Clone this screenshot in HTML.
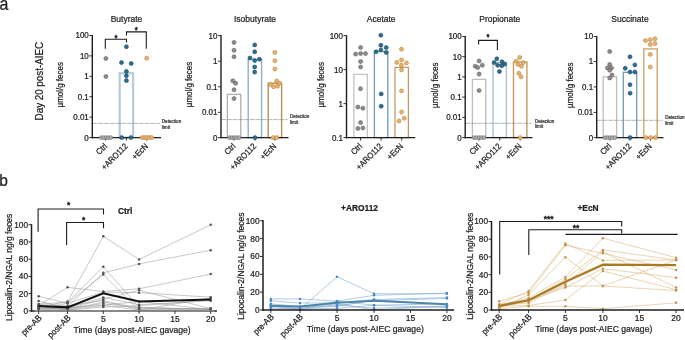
<!DOCTYPE html>
<html><head><meta charset="utf-8"><style>
html,body{margin:0;padding:0;background:#fff;width:685px;height:340px;overflow:hidden}
svg{display:block;will-change:transform}
text{font-family:"Liberation Sans", sans-serif}
</style></head><body>
<svg width="685" height="340" viewBox="0 0 685 340">
<rect width="685" height="340" fill="#fff"/>
<text font-size="16.0" text-anchor="start" fill="#222" stroke="#222" stroke-width="0.22" transform="translate(-0.60 10.00) scale(1.0 1.1)">a</text>
<text font-size="9.8" text-anchor="middle" fill="#222" stroke="#222" stroke-width="0.22" transform="translate(43.40 81.20) rotate(-90) scale(1.0 1.1)">Day 20 post-AIEC</text>
<rect x="119.70" y="73.20" width="13.40" height="64.40" fill="none" stroke="#b7ccd9" stroke-width="2.2"/>
<line x1="92.30" y1="123.40" x2="160.00" y2="123.40" stroke="#8c8c8c" stroke-width="0.65" stroke-dasharray="5,0.8"/>
<text font-size="4.6" text-anchor="start" fill="#333" stroke="#333" stroke-width="0.22" transform="translate(161.80 123.00) scale(1.0 1.1)">Detection</text>
<text font-size="4.6" text-anchor="start" fill="#333" stroke="#333" stroke-width="0.22" transform="translate(161.80 128.60) scale(1.0 1.1)">limit</text>
<line x1="92.30" y1="35.00" x2="92.30" y2="138.30" stroke="#1e1e1e" stroke-width="1.4"/>
<line x1="91.60" y1="137.60" x2="161.00" y2="137.60" stroke="#1e1e1e" stroke-width="1.4"/>
<line x1="89.30" y1="35.50" x2="92.30" y2="35.50" stroke="#1e1e1e" stroke-width="0.9"/>
<text font-size="8.0" text-anchor="end" fill="#222" stroke="#222" stroke-width="0.22" transform="translate(88.80 38.40) scale(1.0 1.1)">100</text>
<line x1="89.30" y1="55.90" x2="92.30" y2="55.90" stroke="#1e1e1e" stroke-width="0.9"/>
<text font-size="8.0" text-anchor="end" fill="#222" stroke="#222" stroke-width="0.22" transform="translate(88.80 58.80) scale(1.0 1.1)">10</text>
<line x1="89.30" y1="76.30" x2="92.30" y2="76.30" stroke="#1e1e1e" stroke-width="0.9"/>
<text font-size="8.0" text-anchor="end" fill="#222" stroke="#222" stroke-width="0.22" transform="translate(88.80 79.20) scale(1.0 1.1)">1</text>
<line x1="89.30" y1="96.70" x2="92.30" y2="96.70" stroke="#1e1e1e" stroke-width="0.9"/>
<text font-size="8.0" text-anchor="end" fill="#222" stroke="#222" stroke-width="0.22" transform="translate(88.80 99.60) scale(1.0 1.1)">0.1</text>
<line x1="89.30" y1="117.10" x2="92.30" y2="117.10" stroke="#1e1e1e" stroke-width="0.9"/>
<text font-size="8.0" text-anchor="end" fill="#222" stroke="#222" stroke-width="0.22" transform="translate(88.80 120.00) scale(1.0 1.1)">0.01</text>
<line x1="89.30" y1="137.60" x2="92.30" y2="137.60" stroke="#1e1e1e" stroke-width="0.9"/>
<text font-size="8.0" text-anchor="end" fill="#222" stroke="#222" stroke-width="0.22" transform="translate(88.80 140.50) scale(1.0 1.1)">0</text>
<line x1="105.70" y1="137.60" x2="105.70" y2="140.60" stroke="#1e1e1e" stroke-width="0.9"/>
<line x1="126.40" y1="137.60" x2="126.40" y2="140.60" stroke="#1e1e1e" stroke-width="0.9"/>
<line x1="146.70" y1="137.60" x2="146.70" y2="140.60" stroke="#1e1e1e" stroke-width="0.9"/>
<circle cx="105.90" cy="58.50" r="2.0" fill="#8d8d8d" stroke="#5e5e5e" stroke-width="0.6"/>
<circle cx="105.90" cy="76.50" r="2.0" fill="#8d8d8d" stroke="#5e5e5e" stroke-width="0.6"/>
<circle cx="101.30" cy="137.60" r="1.9" fill="#b0b0b0" stroke="#666" stroke-width="0.6"/>
<circle cx="103.67" cy="137.60" r="1.9" fill="#b0b0b0" stroke="#666" stroke-width="0.6"/>
<circle cx="106.05" cy="137.60" r="1.9" fill="#b0b0b0" stroke="#666" stroke-width="0.6"/>
<circle cx="108.42" cy="137.60" r="1.9" fill="#b0b0b0" stroke="#666" stroke-width="0.6"/>
<circle cx="110.80" cy="137.60" r="1.9" fill="#b0b0b0" stroke="#666" stroke-width="0.6"/>
<circle cx="126.40" cy="46.70" r="2.0" fill="#2f6d8f" stroke="#1c4a66" stroke-width="0.6"/>
<circle cx="121.50" cy="62.60" r="2.0" fill="#2f6d8f" stroke="#1c4a66" stroke-width="0.6"/>
<circle cx="131.20" cy="63.50" r="2.0" fill="#2f6d8f" stroke="#1c4a66" stroke-width="0.6"/>
<circle cx="126.40" cy="71.40" r="2.0" fill="#2f6d8f" stroke="#1c4a66" stroke-width="0.6"/>
<circle cx="126.40" cy="75.80" r="2.0" fill="#2f6d8f" stroke="#1c4a66" stroke-width="0.6"/>
<circle cx="126.40" cy="80.60" r="2.0" fill="#2f6d8f" stroke="#1c4a66" stroke-width="0.6"/>
<circle cx="121.70" cy="137.60" r="2.0" fill="#2f6d8f" stroke="#1c4a66" stroke-width="0.6"/>
<circle cx="130.90" cy="137.60" r="2.0" fill="#2f6d8f" stroke="#1c4a66" stroke-width="0.6"/>
<circle cx="146.70" cy="58.20" r="2.0" fill="#e8b36c" stroke="#b98440" stroke-width="0.6"/>
<circle cx="142.20" cy="137.60" r="2.0" fill="#e8b36c" stroke="#b98440" stroke-width="0.6"/>
<circle cx="144.55" cy="137.60" r="2.0" fill="#e8b36c" stroke="#b98440" stroke-width="0.6"/>
<circle cx="146.90" cy="137.60" r="2.0" fill="#e8b36c" stroke="#b98440" stroke-width="0.6"/>
<circle cx="149.25" cy="137.60" r="2.0" fill="#e8b36c" stroke="#b98440" stroke-width="0.6"/>
<circle cx="151.60" cy="137.60" r="2.0" fill="#e8b36c" stroke="#b98440" stroke-width="0.6"/>
<text font-size="8.5" text-anchor="middle" fill="#222" stroke="#222" stroke-width="0.22" transform="translate(126.50 21.60) scale(1.0 1.1)">Butyrate</text>
<text font-size="8.0" text-anchor="middle" fill="#222" stroke="#222" stroke-width="0.22" transform="translate(63.20 84.75) rotate(-90) scale(1.0 1.1)">µmol/g feces</text>
<text font-size="7.7" text-anchor="end" fill="#222" stroke="#222" stroke-width="0.22" transform="translate(107.70 146.80) rotate(-45) scale(1.0 1.1)">Ctrl</text>
<text font-size="7.7" text-anchor="end" fill="#222" stroke="#222" stroke-width="0.22" transform="translate(128.40 146.80) rotate(-45) scale(1.0 1.1)">+ARO112</text>
<text font-size="7.7" text-anchor="end" fill="#222" stroke="#222" stroke-width="0.22" transform="translate(148.70 146.80) rotate(-45) scale(1.0 1.1)">+EcN</text>
<polyline points="105.30,48.70 105.30,39.30 126.50,39.30 126.50,42.60" fill="none" stroke="#1e1e1e" stroke-width="1.1" stroke-linejoin="miter"/>
<text font-size="7.5" text-anchor="middle" fill="#222" stroke="#222" stroke-width="0.45" transform="translate(115.90 40.70) scale(1.0 1.1)">*</text>
<polyline points="126.50,35.60 126.50,31.90 146.30,31.90 146.30,48.70" fill="none" stroke="#1e1e1e" stroke-width="1.1" stroke-linejoin="miter"/>
<text font-size="7.5" text-anchor="middle" fill="#222" stroke="#222" stroke-width="0.45" transform="translate(136.20 33.20) scale(1.0 1.1)">*</text>
<rect x="227.40" y="94.40" width="13.40" height="43.20" fill="none" stroke="#b0b0b0" stroke-width="1.3"/>
<rect x="248.20" y="59.40" width="13.40" height="78.20" fill="none" stroke="#8eb1c8" stroke-width="1.4"/>
<rect x="268.20" y="83.20" width="13.40" height="54.40" fill="none" stroke="#b98d5a" stroke-width="1.4"/>
<line x1="221.00" y1="119.60" x2="287.50" y2="119.60" stroke="#8c8c8c" stroke-width="0.65" stroke-dasharray="5,0.8"/>
<text font-size="4.6" text-anchor="start" fill="#333" stroke="#333" stroke-width="0.22" transform="translate(290.00 118.10) scale(1.0 1.1)">Detection</text>
<text font-size="4.6" text-anchor="start" fill="#333" stroke="#333" stroke-width="0.22" transform="translate(290.00 124.40) scale(1.0 1.1)">limit</text>
<line x1="221.00" y1="35.10" x2="221.00" y2="138.30" stroke="#1e1e1e" stroke-width="1.4"/>
<line x1="220.30" y1="137.60" x2="288.50" y2="137.60" stroke="#1e1e1e" stroke-width="1.4"/>
<line x1="218.00" y1="35.60" x2="221.00" y2="35.60" stroke="#1e1e1e" stroke-width="0.9"/>
<text font-size="8.0" text-anchor="end" fill="#222" stroke="#222" stroke-width="0.22" transform="translate(217.50 38.50) scale(1.0 1.1)">10</text>
<line x1="218.00" y1="61.20" x2="221.00" y2="61.20" stroke="#1e1e1e" stroke-width="0.9"/>
<text font-size="8.0" text-anchor="end" fill="#222" stroke="#222" stroke-width="0.22" transform="translate(217.50 64.10) scale(1.0 1.1)">1</text>
<line x1="218.00" y1="86.80" x2="221.00" y2="86.80" stroke="#1e1e1e" stroke-width="0.9"/>
<text font-size="8.0" text-anchor="end" fill="#222" stroke="#222" stroke-width="0.22" transform="translate(217.50 89.70) scale(1.0 1.1)">0.1</text>
<line x1="218.00" y1="112.30" x2="221.00" y2="112.30" stroke="#1e1e1e" stroke-width="0.9"/>
<text font-size="8.0" text-anchor="end" fill="#222" stroke="#222" stroke-width="0.22" transform="translate(217.50 115.20) scale(1.0 1.1)">0.01</text>
<line x1="218.00" y1="137.60" x2="221.00" y2="137.60" stroke="#1e1e1e" stroke-width="0.9"/>
<text font-size="8.0" text-anchor="end" fill="#222" stroke="#222" stroke-width="0.22" transform="translate(217.50 140.50) scale(1.0 1.1)">0</text>
<line x1="234.10" y1="137.60" x2="234.10" y2="140.60" stroke="#1e1e1e" stroke-width="0.9"/>
<line x1="254.90" y1="137.60" x2="254.90" y2="140.60" stroke="#1e1e1e" stroke-width="0.9"/>
<line x1="274.90" y1="137.60" x2="274.90" y2="140.60" stroke="#1e1e1e" stroke-width="0.9"/>
<circle cx="234.00" cy="42.40" r="2.0" fill="#8d8d8d" stroke="#5e5e5e" stroke-width="0.6"/>
<circle cx="234.00" cy="50.20" r="2.0" fill="#8d8d8d" stroke="#5e5e5e" stroke-width="0.6"/>
<circle cx="234.00" cy="56.80" r="2.0" fill="#8d8d8d" stroke="#5e5e5e" stroke-width="0.6"/>
<circle cx="232.80" cy="80.80" r="2.0" fill="#8d8d8d" stroke="#5e5e5e" stroke-width="0.6"/>
<circle cx="235.60" cy="83.30" r="2.0" fill="#8d8d8d" stroke="#5e5e5e" stroke-width="0.6"/>
<circle cx="234.00" cy="89.70" r="2.0" fill="#8d8d8d" stroke="#5e5e5e" stroke-width="0.6"/>
<circle cx="234.00" cy="98.60" r="2.0" fill="#8d8d8d" stroke="#5e5e5e" stroke-width="0.6"/>
<circle cx="229.50" cy="137.60" r="1.9" fill="#b0b0b0" stroke="#666" stroke-width="0.6"/>
<circle cx="231.88" cy="137.60" r="1.9" fill="#b0b0b0" stroke="#666" stroke-width="0.6"/>
<circle cx="234.25" cy="137.60" r="1.9" fill="#b0b0b0" stroke="#666" stroke-width="0.6"/>
<circle cx="236.62" cy="137.60" r="1.9" fill="#b0b0b0" stroke="#666" stroke-width="0.6"/>
<circle cx="239.00" cy="137.60" r="1.9" fill="#b0b0b0" stroke="#666" stroke-width="0.6"/>
<circle cx="254.70" cy="44.90" r="2.0" fill="#2f6d8f" stroke="#1c4a66" stroke-width="0.6"/>
<circle cx="254.70" cy="51.80" r="2.0" fill="#2f6d8f" stroke="#1c4a66" stroke-width="0.6"/>
<circle cx="250.00" cy="58.00" r="2.0" fill="#2f6d8f" stroke="#1c4a66" stroke-width="0.6"/>
<circle cx="259.40" cy="59.20" r="2.0" fill="#2f6d8f" stroke="#1c4a66" stroke-width="0.6"/>
<circle cx="254.70" cy="60.60" r="2.0" fill="#2f6d8f" stroke="#1c4a66" stroke-width="0.6"/>
<circle cx="254.70" cy="67.00" r="2.0" fill="#2f6d8f" stroke="#1c4a66" stroke-width="0.6"/>
<circle cx="254.70" cy="72.10" r="2.0" fill="#2f6d8f" stroke="#1c4a66" stroke-width="0.6"/>
<circle cx="255.00" cy="137.60" r="2.0" fill="#2f6d8f" stroke="#1c4a66" stroke-width="0.6"/>
<circle cx="274.90" cy="52.40" r="2.0" fill="#e8b36c" stroke="#b98440" stroke-width="0.6"/>
<circle cx="274.90" cy="60.80" r="2.0" fill="#e8b36c" stroke="#b98440" stroke-width="0.6"/>
<circle cx="274.90" cy="69.10" r="2.0" fill="#e8b36c" stroke="#b98440" stroke-width="0.6"/>
<circle cx="270.50" cy="84.50" r="2.0" fill="#e8b36c" stroke="#b98440" stroke-width="0.6"/>
<circle cx="273.50" cy="86.80" r="2.0" fill="#e8b36c" stroke="#b98440" stroke-width="0.6"/>
<circle cx="276.60" cy="81.10" r="2.0" fill="#e8b36c" stroke="#b98440" stroke-width="0.6"/>
<circle cx="277.50" cy="86.20" r="2.0" fill="#e8b36c" stroke="#b98440" stroke-width="0.6"/>
<circle cx="279.60" cy="83.20" r="2.0" fill="#e8b36c" stroke="#b98440" stroke-width="0.6"/>
<circle cx="273.00" cy="137.60" r="2.0" fill="#e8b36c" stroke="#b98440" stroke-width="0.6"/>
<circle cx="276.60" cy="137.60" r="2.0" fill="#e8b36c" stroke="#b98440" stroke-width="0.6"/>
<text font-size="8.5" text-anchor="middle" fill="#222" stroke="#222" stroke-width="0.22" transform="translate(255.00 21.70) scale(1.0 1.1)">Isobutyrate</text>
<text font-size="8.0" text-anchor="middle" fill="#222" stroke="#222" stroke-width="0.22" transform="translate(192.20 84.50) rotate(-90) scale(1.0 1.1)">µmol/g feces</text>
<text font-size="7.7" text-anchor="end" fill="#222" stroke="#222" stroke-width="0.22" transform="translate(236.10 146.80) rotate(-45) scale(1.0 1.1)">Ctrl</text>
<text font-size="7.7" text-anchor="end" fill="#222" stroke="#222" stroke-width="0.22" transform="translate(256.90 146.80) rotate(-45) scale(1.0 1.1)">+ARO112</text>
<text font-size="7.7" text-anchor="end" fill="#222" stroke="#222" stroke-width="0.22" transform="translate(276.90 146.80) rotate(-45) scale(1.0 1.1)">+EcN</text>
<rect x="353.90" y="74.40" width="13.40" height="63.20" fill="none" stroke="#c4c4c4" stroke-width="1.3"/>
<rect x="374.40" y="51.50" width="13.40" height="86.10" fill="none" stroke="#6f9cb8" stroke-width="1.3"/>
<rect x="395.00" y="67.40" width="13.40" height="70.20" fill="none" stroke="#c09a66" stroke-width="1.3"/>
<line x1="346.50" y1="35.10" x2="346.50" y2="138.30" stroke="#1e1e1e" stroke-width="1.4"/>
<line x1="345.80" y1="137.60" x2="415.20" y2="137.60" stroke="#1e1e1e" stroke-width="1.4"/>
<line x1="343.50" y1="35.60" x2="346.50" y2="35.60" stroke="#1e1e1e" stroke-width="0.9"/>
<text font-size="8.0" text-anchor="end" fill="#222" stroke="#222" stroke-width="0.22" transform="translate(343.00 38.50) scale(1.0 1.1)">100</text>
<line x1="343.50" y1="69.60" x2="346.50" y2="69.60" stroke="#1e1e1e" stroke-width="0.9"/>
<text font-size="8.0" text-anchor="end" fill="#222" stroke="#222" stroke-width="0.22" transform="translate(343.00 72.50) scale(1.0 1.1)">10</text>
<line x1="343.50" y1="103.60" x2="346.50" y2="103.60" stroke="#1e1e1e" stroke-width="0.9"/>
<text font-size="8.0" text-anchor="end" fill="#222" stroke="#222" stroke-width="0.22" transform="translate(343.00 106.50) scale(1.0 1.1)">1</text>
<line x1="343.50" y1="137.60" x2="346.50" y2="137.60" stroke="#1e1e1e" stroke-width="0.9"/>
<text font-size="8.0" text-anchor="end" fill="#222" stroke="#222" stroke-width="0.22" transform="translate(343.00 140.50) scale(1.0 1.1)">0.1</text>
<line x1="360.60" y1="137.60" x2="360.60" y2="140.60" stroke="#1e1e1e" stroke-width="0.9"/>
<line x1="381.10" y1="137.60" x2="381.10" y2="140.60" stroke="#1e1e1e" stroke-width="0.9"/>
<line x1="401.70" y1="137.60" x2="401.70" y2="140.60" stroke="#1e1e1e" stroke-width="0.9"/>
<circle cx="360.60" cy="47.60" r="2.0" fill="#8d8d8d" stroke="#5e5e5e" stroke-width="0.6"/>
<circle cx="355.60" cy="54.10" r="2.0" fill="#8d8d8d" stroke="#5e5e5e" stroke-width="0.6"/>
<circle cx="360.60" cy="53.60" r="2.0" fill="#8d8d8d" stroke="#5e5e5e" stroke-width="0.6"/>
<circle cx="365.50" cy="53.60" r="2.0" fill="#8d8d8d" stroke="#5e5e5e" stroke-width="0.6"/>
<circle cx="360.60" cy="61.50" r="2.0" fill="#8d8d8d" stroke="#5e5e5e" stroke-width="0.6"/>
<circle cx="360.60" cy="67.00" r="2.0" fill="#8d8d8d" stroke="#5e5e5e" stroke-width="0.6"/>
<circle cx="360.50" cy="88.75" r="2.0" fill="#8d8d8d" stroke="#5e5e5e" stroke-width="0.6"/>
<circle cx="357.90" cy="107.10" r="2.0" fill="#8d8d8d" stroke="#5e5e5e" stroke-width="0.6"/>
<circle cx="362.90" cy="108.20" r="2.0" fill="#8d8d8d" stroke="#5e5e5e" stroke-width="0.6"/>
<circle cx="360.60" cy="122.60" r="2.0" fill="#8d8d8d" stroke="#5e5e5e" stroke-width="0.6"/>
<circle cx="357.90" cy="128.40" r="2.0" fill="#8d8d8d" stroke="#5e5e5e" stroke-width="0.6"/>
<circle cx="362.90" cy="127.90" r="2.0" fill="#8d8d8d" stroke="#5e5e5e" stroke-width="0.6"/>
<circle cx="380.90" cy="35.20" r="2.0" fill="#2f6d8f" stroke="#1c4a66" stroke-width="0.6"/>
<circle cx="380.90" cy="45.30" r="2.0" fill="#2f6d8f" stroke="#1c4a66" stroke-width="0.6"/>
<circle cx="376.10" cy="51.80" r="2.0" fill="#2f6d8f" stroke="#1c4a66" stroke-width="0.6"/>
<circle cx="380.90" cy="50.00" r="2.0" fill="#2f6d8f" stroke="#1c4a66" stroke-width="0.6"/>
<circle cx="386.20" cy="47.60" r="2.0" fill="#2f6d8f" stroke="#1c4a66" stroke-width="0.6"/>
<circle cx="386.20" cy="52.40" r="2.0" fill="#2f6d8f" stroke="#1c4a66" stroke-width="0.6"/>
<circle cx="381.20" cy="93.90" r="2.0" fill="#2f6d8f" stroke="#1c4a66" stroke-width="0.6"/>
<circle cx="381.20" cy="106.20" r="2.0" fill="#2f6d8f" stroke="#1c4a66" stroke-width="0.6"/>
<circle cx="401.50" cy="49.20" r="2.0" fill="#e8b36c" stroke="#b98440" stroke-width="0.6"/>
<circle cx="396.80" cy="62.40" r="2.0" fill="#e8b36c" stroke="#b98440" stroke-width="0.6"/>
<circle cx="401.50" cy="59.90" r="2.0" fill="#e8b36c" stroke="#b98440" stroke-width="0.6"/>
<circle cx="406.50" cy="62.90" r="2.0" fill="#e8b36c" stroke="#b98440" stroke-width="0.6"/>
<circle cx="401.50" cy="65.20" r="2.0" fill="#e8b36c" stroke="#b98440" stroke-width="0.6"/>
<circle cx="401.50" cy="70.00" r="2.0" fill="#e8b36c" stroke="#b98440" stroke-width="0.6"/>
<circle cx="401.50" cy="90.90" r="2.0" fill="#e8b36c" stroke="#b98440" stroke-width="0.6"/>
<circle cx="401.50" cy="112.00" r="2.0" fill="#e8b36c" stroke="#b98440" stroke-width="0.6"/>
<circle cx="399.00" cy="120.90" r="2.0" fill="#e8b36c" stroke="#b98440" stroke-width="0.6"/>
<circle cx="404.30" cy="118.20" r="2.0" fill="#e8b36c" stroke="#b98440" stroke-width="0.6"/>
<text font-size="8.5" text-anchor="middle" fill="#222" stroke="#222" stroke-width="0.22" transform="translate(381.20 21.70) scale(1.0 1.1)">Acetate</text>
<text font-size="8.0" text-anchor="middle" fill="#222" stroke="#222" stroke-width="0.22" transform="translate(324.20 84.70) rotate(-90) scale(1.0 1.1)">µmol/g feces</text>
<text font-size="7.7" text-anchor="end" fill="#222" stroke="#222" stroke-width="0.22" transform="translate(362.60 146.80) rotate(-45) scale(1.0 1.1)">Ctrl</text>
<text font-size="7.7" text-anchor="end" fill="#222" stroke="#222" stroke-width="0.22" transform="translate(383.10 146.80) rotate(-45) scale(1.0 1.1)">+ARO112</text>
<text font-size="7.7" text-anchor="end" fill="#222" stroke="#222" stroke-width="0.22" transform="translate(403.70 146.80) rotate(-45) scale(1.0 1.1)">+EcN</text>
<rect x="472.40" y="79.40" width="13.40" height="58.20" fill="none" stroke="#bdbdbd" stroke-width="1.3"/>
<rect x="493.00" y="62.60" width="13.40" height="75.00" fill="none" stroke="#a9c4d6" stroke-width="1.4"/>
<rect x="513.50" y="62.00" width="13.40" height="75.60" fill="none" stroke="#c7995e" stroke-width="1.4"/>
<line x1="465.20" y1="123.30" x2="531.50" y2="123.30" stroke="#8c8c8c" stroke-width="0.65" stroke-dasharray="5,0.8"/>
<text font-size="4.6" text-anchor="start" fill="#333" stroke="#333" stroke-width="0.22" transform="translate(535.00 122.85) scale(1.0 1.1)">Detection</text>
<text font-size="4.6" text-anchor="start" fill="#333" stroke="#333" stroke-width="0.22" transform="translate(535.00 128.35) scale(1.0 1.1)">limit</text>
<line x1="465.20" y1="36.00" x2="465.20" y2="138.30" stroke="#1e1e1e" stroke-width="1.4"/>
<line x1="464.50" y1="137.60" x2="532.50" y2="137.60" stroke="#1e1e1e" stroke-width="1.4"/>
<line x1="462.20" y1="36.50" x2="465.20" y2="36.50" stroke="#1e1e1e" stroke-width="0.9"/>
<text font-size="8.0" text-anchor="end" fill="#222" stroke="#222" stroke-width="0.22" transform="translate(461.70 39.40) scale(1.0 1.1)">100</text>
<line x1="462.20" y1="56.70" x2="465.20" y2="56.70" stroke="#1e1e1e" stroke-width="0.9"/>
<text font-size="8.0" text-anchor="end" fill="#222" stroke="#222" stroke-width="0.22" transform="translate(461.70 59.60) scale(1.0 1.1)">10</text>
<line x1="462.20" y1="76.90" x2="465.20" y2="76.90" stroke="#1e1e1e" stroke-width="0.9"/>
<text font-size="8.0" text-anchor="end" fill="#222" stroke="#222" stroke-width="0.22" transform="translate(461.70 79.80) scale(1.0 1.1)">1</text>
<line x1="462.20" y1="97.10" x2="465.20" y2="97.10" stroke="#1e1e1e" stroke-width="0.9"/>
<text font-size="8.0" text-anchor="end" fill="#222" stroke="#222" stroke-width="0.22" transform="translate(461.70 100.00) scale(1.0 1.1)">0.1</text>
<line x1="462.20" y1="117.40" x2="465.20" y2="117.40" stroke="#1e1e1e" stroke-width="0.9"/>
<text font-size="8.0" text-anchor="end" fill="#222" stroke="#222" stroke-width="0.22" transform="translate(461.70 120.30) scale(1.0 1.1)">0.01</text>
<line x1="462.20" y1="137.60" x2="465.20" y2="137.60" stroke="#1e1e1e" stroke-width="0.9"/>
<text font-size="8.0" text-anchor="end" fill="#222" stroke="#222" stroke-width="0.22" transform="translate(461.70 140.50) scale(1.0 1.1)">0</text>
<line x1="479.10" y1="137.60" x2="479.10" y2="140.60" stroke="#1e1e1e" stroke-width="0.9"/>
<line x1="499.70" y1="137.60" x2="499.70" y2="140.60" stroke="#1e1e1e" stroke-width="0.9"/>
<line x1="520.20" y1="137.60" x2="520.20" y2="140.60" stroke="#1e1e1e" stroke-width="0.9"/>
<circle cx="479.10" cy="60.90" r="2.0" fill="#8d8d8d" stroke="#5e5e5e" stroke-width="0.6"/>
<circle cx="475.20" cy="66.20" r="2.0" fill="#8d8d8d" stroke="#5e5e5e" stroke-width="0.6"/>
<circle cx="477.70" cy="67.60" r="2.0" fill="#8d8d8d" stroke="#5e5e5e" stroke-width="0.6"/>
<circle cx="482.30" cy="65.30" r="2.0" fill="#8d8d8d" stroke="#5e5e5e" stroke-width="0.6"/>
<circle cx="479.10" cy="74.10" r="2.0" fill="#8d8d8d" stroke="#5e5e5e" stroke-width="0.6"/>
<circle cx="479.10" cy="90.50" r="2.0" fill="#8d8d8d" stroke="#5e5e5e" stroke-width="0.6"/>
<circle cx="474.00" cy="137.60" r="1.9" fill="#b0b0b0" stroke="#666" stroke-width="0.6"/>
<circle cx="476.50" cy="137.60" r="1.9" fill="#b0b0b0" stroke="#666" stroke-width="0.6"/>
<circle cx="479.00" cy="137.60" r="1.9" fill="#b0b0b0" stroke="#666" stroke-width="0.6"/>
<circle cx="481.50" cy="137.60" r="1.9" fill="#b0b0b0" stroke="#666" stroke-width="0.6"/>
<circle cx="484.00" cy="137.60" r="1.9" fill="#b0b0b0" stroke="#666" stroke-width="0.6"/>
<circle cx="496.80" cy="58.80" r="2.0" fill="#2f6d8f" stroke="#1c4a66" stroke-width="0.6"/>
<circle cx="494.10" cy="62.60" r="2.0" fill="#2f6d8f" stroke="#1c4a66" stroke-width="0.6"/>
<circle cx="502.00" cy="61.80" r="2.0" fill="#2f6d8f" stroke="#1c4a66" stroke-width="0.6"/>
<circle cx="497.60" cy="65.30" r="2.0" fill="#2f6d8f" stroke="#1c4a66" stroke-width="0.6"/>
<circle cx="504.70" cy="64.10" r="2.0" fill="#2f6d8f" stroke="#1c4a66" stroke-width="0.6"/>
<circle cx="501.70" cy="65.80" r="2.0" fill="#2f6d8f" stroke="#1c4a66" stroke-width="0.6"/>
<circle cx="499.40" cy="71.50" r="2.0" fill="#2f6d8f" stroke="#1c4a66" stroke-width="0.6"/>
<circle cx="519.70" cy="57.40" r="2.0" fill="#e8b36c" stroke="#b98440" stroke-width="0.6"/>
<circle cx="516.20" cy="61.20" r="2.0" fill="#e8b36c" stroke="#b98440" stroke-width="0.6"/>
<circle cx="523.20" cy="62.60" r="2.0" fill="#e8b36c" stroke="#b98440" stroke-width="0.6"/>
<circle cx="518.00" cy="64.40" r="2.0" fill="#e8b36c" stroke="#b98440" stroke-width="0.6"/>
<circle cx="521.50" cy="66.20" r="2.0" fill="#e8b36c" stroke="#b98440" stroke-width="0.6"/>
<circle cx="518.80" cy="73.20" r="2.0" fill="#e8b36c" stroke="#b98440" stroke-width="0.6"/>
<circle cx="521.10" cy="76.80" r="2.0" fill="#e8b36c" stroke="#b98440" stroke-width="0.6"/>
<circle cx="520.20" cy="137.60" r="2.0" fill="#e8b36c" stroke="#b98440" stroke-width="0.6"/>
<text font-size="8.5" text-anchor="middle" fill="#222" stroke="#222" stroke-width="0.22" transform="translate(499.75 21.70) scale(1.0 1.1)">Propionate</text>
<text font-size="8.0" text-anchor="middle" fill="#222" stroke="#222" stroke-width="0.22" transform="translate(437.60 85.20) rotate(-90) scale(1.0 1.1)">µmol/g feces</text>
<text font-size="7.7" text-anchor="end" fill="#222" stroke="#222" stroke-width="0.22" transform="translate(481.10 146.80) rotate(-45) scale(1.0 1.1)">Ctrl</text>
<text font-size="7.7" text-anchor="end" fill="#222" stroke="#222" stroke-width="0.22" transform="translate(501.70 146.80) rotate(-45) scale(1.0 1.1)">+ARO112</text>
<text font-size="7.7" text-anchor="end" fill="#222" stroke="#222" stroke-width="0.22" transform="translate(522.20 146.80) rotate(-45) scale(1.0 1.1)">+EcN</text>
<polyline points="478.60,44.60 478.60,40.40 497.40,40.40 497.40,49.90" fill="none" stroke="#1e1e1e" stroke-width="1.1" stroke-linejoin="miter"/>
<text font-size="7.5" text-anchor="middle" fill="#222" stroke="#222" stroke-width="0.45" transform="translate(487.90 39.60) scale(1.0 1.1)">*</text>
<rect x="603.20" y="76.80" width="13.40" height="60.80" fill="none" stroke="#bdbdbd" stroke-width="1.3"/>
<rect x="623.30" y="72.30" width="13.40" height="65.30" fill="none" stroke="#6f9cb8" stroke-width="1.3"/>
<rect x="643.80" y="48.90" width="13.40" height="88.70" fill="none" stroke="#d4b27f" stroke-width="1.6"/>
<line x1="596.70" y1="120.30" x2="662.50" y2="120.30" stroke="#8c8c8c" stroke-width="0.65" stroke-dasharray="5,0.8"/>
<text font-size="4.6" text-anchor="start" fill="#333" stroke="#333" stroke-width="0.22" transform="translate(665.20 118.90) scale(1.0 1.1)">Detection</text>
<text font-size="4.6" text-anchor="start" fill="#333" stroke="#333" stroke-width="0.22" transform="translate(665.20 124.60) scale(1.0 1.1)">limit</text>
<line x1="596.70" y1="36.00" x2="596.70" y2="138.30" stroke="#1e1e1e" stroke-width="1.4"/>
<line x1="596.00" y1="137.60" x2="663.50" y2="137.60" stroke="#1e1e1e" stroke-width="1.4"/>
<line x1="593.70" y1="36.50" x2="596.70" y2="36.50" stroke="#1e1e1e" stroke-width="0.9"/>
<text font-size="8.0" text-anchor="end" fill="#222" stroke="#222" stroke-width="0.22" transform="translate(593.20 39.40) scale(1.0 1.1)">10</text>
<line x1="593.70" y1="61.50" x2="596.70" y2="61.50" stroke="#1e1e1e" stroke-width="0.9"/>
<text font-size="8.0" text-anchor="end" fill="#222" stroke="#222" stroke-width="0.22" transform="translate(593.20 64.40) scale(1.0 1.1)">1</text>
<line x1="593.70" y1="86.90" x2="596.70" y2="86.90" stroke="#1e1e1e" stroke-width="0.9"/>
<text font-size="8.0" text-anchor="end" fill="#222" stroke="#222" stroke-width="0.22" transform="translate(593.20 89.80) scale(1.0 1.1)">0.1</text>
<line x1="593.70" y1="112.40" x2="596.70" y2="112.40" stroke="#1e1e1e" stroke-width="0.9"/>
<text font-size="8.0" text-anchor="end" fill="#222" stroke="#222" stroke-width="0.22" transform="translate(593.20 115.30) scale(1.0 1.1)">0.01</text>
<line x1="593.70" y1="137.60" x2="596.70" y2="137.60" stroke="#1e1e1e" stroke-width="0.9"/>
<text font-size="8.0" text-anchor="end" fill="#222" stroke="#222" stroke-width="0.22" transform="translate(593.20 140.50) scale(1.0 1.1)">0</text>
<line x1="609.90" y1="137.60" x2="609.90" y2="140.60" stroke="#1e1e1e" stroke-width="0.9"/>
<line x1="630.00" y1="137.60" x2="630.00" y2="140.60" stroke="#1e1e1e" stroke-width="0.9"/>
<line x1="650.50" y1="137.60" x2="650.50" y2="140.60" stroke="#1e1e1e" stroke-width="0.9"/>
<circle cx="609.70" cy="51.50" r="2.0" fill="#8d8d8d" stroke="#5e5e5e" stroke-width="0.6"/>
<circle cx="609.70" cy="64.40" r="2.0" fill="#8d8d8d" stroke="#5e5e5e" stroke-width="0.6"/>
<circle cx="607.40" cy="67.90" r="2.0" fill="#8d8d8d" stroke="#5e5e5e" stroke-width="0.6"/>
<circle cx="611.50" cy="67.90" r="2.0" fill="#8d8d8d" stroke="#5e5e5e" stroke-width="0.6"/>
<circle cx="609.70" cy="70.20" r="2.0" fill="#8d8d8d" stroke="#5e5e5e" stroke-width="0.6"/>
<circle cx="612.00" cy="75.00" r="2.0" fill="#8d8d8d" stroke="#5e5e5e" stroke-width="0.6"/>
<circle cx="609.70" cy="78.00" r="2.0" fill="#8d8d8d" stroke="#5e5e5e" stroke-width="0.6"/>
<circle cx="605.00" cy="137.60" r="1.9" fill="#b0b0b0" stroke="#666" stroke-width="0.6"/>
<circle cx="607.50" cy="137.60" r="1.9" fill="#b0b0b0" stroke="#666" stroke-width="0.6"/>
<circle cx="610.00" cy="137.60" r="1.9" fill="#b0b0b0" stroke="#666" stroke-width="0.6"/>
<circle cx="612.50" cy="137.60" r="1.9" fill="#b0b0b0" stroke="#666" stroke-width="0.6"/>
<circle cx="615.00" cy="137.60" r="1.9" fill="#b0b0b0" stroke="#666" stroke-width="0.6"/>
<circle cx="630.00" cy="56.80" r="2.0" fill="#2f6d8f" stroke="#1c4a66" stroke-width="0.6"/>
<circle cx="634.90" cy="64.90" r="2.0" fill="#2f6d8f" stroke="#1c4a66" stroke-width="0.6"/>
<circle cx="625.20" cy="68.30" r="2.0" fill="#2f6d8f" stroke="#1c4a66" stroke-width="0.6"/>
<circle cx="630.00" cy="72.00" r="2.0" fill="#2f6d8f" stroke="#1c4a66" stroke-width="0.6"/>
<circle cx="634.90" cy="72.00" r="2.0" fill="#2f6d8f" stroke="#1c4a66" stroke-width="0.6"/>
<circle cx="630.00" cy="84.70" r="2.0" fill="#2f6d8f" stroke="#1c4a66" stroke-width="0.6"/>
<circle cx="630.10" cy="93.20" r="2.0" fill="#2f6d8f" stroke="#1c4a66" stroke-width="0.6"/>
<circle cx="630.10" cy="137.60" r="2.0" fill="#2f6d8f" stroke="#1c4a66" stroke-width="0.6"/>
<circle cx="645.50" cy="40.60" r="2.0" fill="#e8b36c" stroke="#b98440" stroke-width="0.6"/>
<circle cx="650.30" cy="39.70" r="2.0" fill="#e8b36c" stroke="#b98440" stroke-width="0.6"/>
<circle cx="655.00" cy="38.80" r="2.0" fill="#e8b36c" stroke="#b98440" stroke-width="0.6"/>
<circle cx="650.30" cy="44.50" r="2.0" fill="#e8b36c" stroke="#b98440" stroke-width="0.6"/>
<circle cx="655.00" cy="43.60" r="2.0" fill="#e8b36c" stroke="#b98440" stroke-width="0.6"/>
<circle cx="650.30" cy="54.40" r="2.0" fill="#e8b36c" stroke="#b98440" stroke-width="0.6"/>
<circle cx="650.30" cy="67.00" r="2.0" fill="#e8b36c" stroke="#b98440" stroke-width="0.6"/>
<circle cx="645.80" cy="137.60" r="2.0" fill="#e8b36c" stroke="#b98440" stroke-width="0.6"/>
<circle cx="650.60" cy="137.60" r="2.0" fill="#e8b36c" stroke="#b98440" stroke-width="0.6"/>
<circle cx="655.50" cy="137.60" r="2.0" fill="#e8b36c" stroke="#b98440" stroke-width="0.6"/>
<text font-size="8.5" text-anchor="middle" fill="#222" stroke="#222" stroke-width="0.22" transform="translate(630.00 21.70) scale(1.0 1.1)">Succinate</text>
<text font-size="8.0" text-anchor="middle" fill="#222" stroke="#222" stroke-width="0.22" transform="translate(573.10 85.20) rotate(-90) scale(1.0 1.1)">µmol/g feces</text>
<text font-size="7.7" text-anchor="end" fill="#222" stroke="#222" stroke-width="0.22" transform="translate(611.90 146.80) rotate(-45) scale(1.0 1.1)">Ctrl</text>
<text font-size="7.7" text-anchor="end" fill="#222" stroke="#222" stroke-width="0.22" transform="translate(632.00 146.80) rotate(-45) scale(1.0 1.1)">+ARO112</text>
<text font-size="7.7" text-anchor="end" fill="#222" stroke="#222" stroke-width="0.22" transform="translate(652.50 146.80) rotate(-45) scale(1.0 1.1)">+EcN</text>
<text font-size="15.5" text-anchor="start" fill="#222" stroke="#222" stroke-width="0.22" transform="translate(-0.80 186.00) scale(1.0 1.1)">b</text>
<polyline points="38.10,231.80 38.10,209.00 103.50,209.00 103.50,214.60" fill="none" stroke="#1e1e1e" stroke-width="1.1" stroke-linejoin="miter"/>
<polyline points="66.60,245.00 66.60,222.50 103.50,222.50 103.50,228.20" fill="none" stroke="#1e1e1e" stroke-width="1.1" stroke-linejoin="miter"/>
<text font-size="8.5" text-anchor="middle" fill="#222" stroke="#222" stroke-width="0.45" transform="translate(68.60 208.10) scale(1.0 1.1)">*</text>
<text font-size="8.5" text-anchor="middle" fill="#222" stroke="#222" stroke-width="0.45" transform="translate(83.60 223.00) scale(1.0 1.1)">*</text>
<polyline points="38.70,307.45 67.60,301.42 103.30,236.34 139.10,259.44 210.70,224.87" fill="none" stroke="#9a9a9a" stroke-width="0.55" stroke-linejoin="miter"/>
<circle cx="38.70" cy="307.45" r="1.25" fill="#555"/>
<circle cx="67.60" cy="301.42" r="1.25" fill="#555"/>
<circle cx="103.30" cy="236.34" r="1.25" fill="#555"/>
<circle cx="139.10" cy="259.44" r="1.25" fill="#555"/>
<circle cx="210.70" cy="224.87" r="1.25" fill="#555"/>
<polyline points="38.70,306.59 67.60,306.59 103.30,272.80 139.10,263.92 210.70,250.22" fill="none" stroke="#9a9a9a" stroke-width="0.55" stroke-linejoin="miter"/>
<circle cx="38.70" cy="306.59" r="1.25" fill="#555"/>
<circle cx="67.60" cy="306.59" r="1.25" fill="#555"/>
<circle cx="103.30" cy="272.80" r="1.25" fill="#555"/>
<circle cx="139.10" cy="263.92" r="1.25" fill="#555"/>
<circle cx="210.70" cy="250.22" r="1.25" fill="#555"/>
<polyline points="38.70,304.00 67.60,302.28 103.30,266.68 139.10,307.37 210.70,309.61" fill="none" stroke="#9a9a9a" stroke-width="0.55" stroke-linejoin="miter"/>
<circle cx="38.70" cy="304.00" r="1.25" fill="#555"/>
<circle cx="67.60" cy="302.28" r="1.25" fill="#555"/>
<circle cx="103.30" cy="266.68" r="1.25" fill="#555"/>
<circle cx="139.10" cy="307.37" r="1.25" fill="#555"/>
<circle cx="210.70" cy="309.61" r="1.25" fill="#555"/>
<polyline points="38.70,309.18 67.60,303.14 103.30,274.61 139.10,310.56 210.70,308.31" fill="none" stroke="#9a9a9a" stroke-width="0.55" stroke-linejoin="miter"/>
<circle cx="38.70" cy="309.18" r="1.25" fill="#555"/>
<circle cx="67.60" cy="303.14" r="1.25" fill="#555"/>
<circle cx="103.30" cy="274.61" r="1.25" fill="#555"/>
<circle cx="139.10" cy="310.56" r="1.25" fill="#555"/>
<circle cx="210.70" cy="308.31" r="1.25" fill="#555"/>
<polyline points="38.70,305.47 67.60,287.37 103.30,291.42 139.10,288.75 210.70,274.09" fill="none" stroke="#9a9a9a" stroke-width="0.55" stroke-linejoin="miter"/>
<circle cx="38.70" cy="305.47" r="1.25" fill="#555"/>
<circle cx="67.60" cy="287.37" r="1.25" fill="#555"/>
<circle cx="103.30" cy="291.42" r="1.25" fill="#555"/>
<circle cx="139.10" cy="288.75" r="1.25" fill="#555"/>
<circle cx="210.70" cy="274.09" r="1.25" fill="#555"/>
<polyline points="38.70,296.33 67.60,303.31 103.30,292.11 139.10,292.71 210.70,297.19" fill="none" stroke="#9a9a9a" stroke-width="0.55" stroke-linejoin="miter"/>
<circle cx="38.70" cy="296.33" r="1.25" fill="#555"/>
<circle cx="67.60" cy="303.31" r="1.25" fill="#555"/>
<circle cx="103.30" cy="292.11" r="1.25" fill="#555"/>
<circle cx="139.10" cy="292.71" r="1.25" fill="#555"/>
<circle cx="210.70" cy="297.19" r="1.25" fill="#555"/>
<polyline points="38.70,300.90 67.60,308.31 103.30,297.45 139.10,304.69 210.70,300.73" fill="none" stroke="#9a9a9a" stroke-width="0.55" stroke-linejoin="miter"/>
<circle cx="38.70" cy="300.90" r="1.25" fill="#555"/>
<circle cx="67.60" cy="308.31" r="1.25" fill="#555"/>
<circle cx="103.30" cy="297.45" r="1.25" fill="#555"/>
<circle cx="139.10" cy="304.69" r="1.25" fill="#555"/>
<circle cx="210.70" cy="300.73" r="1.25" fill="#555"/>
<polyline points="38.70,308.31 67.60,309.18 103.30,299.09 139.10,290.21 210.70,308.66" fill="none" stroke="#9a9a9a" stroke-width="0.55" stroke-linejoin="miter"/>
<circle cx="38.70" cy="308.31" r="1.25" fill="#555"/>
<circle cx="67.60" cy="309.18" r="1.25" fill="#555"/>
<circle cx="103.30" cy="299.09" r="1.25" fill="#555"/>
<circle cx="139.10" cy="290.21" r="1.25" fill="#555"/>
<circle cx="210.70" cy="308.66" r="1.25" fill="#555"/>
<polyline points="38.70,305.73 67.60,310.04 103.30,302.02 139.10,307.45 210.70,309.18" fill="none" stroke="#9a9a9a" stroke-width="0.55" stroke-linejoin="miter"/>
<circle cx="38.70" cy="305.73" r="1.25" fill="#555"/>
<circle cx="67.60" cy="310.04" r="1.25" fill="#555"/>
<circle cx="103.30" cy="302.02" r="1.25" fill="#555"/>
<circle cx="139.10" cy="307.45" r="1.25" fill="#555"/>
<circle cx="210.70" cy="309.18" r="1.25" fill="#555"/>
<polyline points="38.70,310.04 67.60,307.45 103.30,305.38 139.10,310.04 210.70,297.97" fill="none" stroke="#9a9a9a" stroke-width="0.55" stroke-linejoin="miter"/>
<circle cx="38.70" cy="310.04" r="1.25" fill="#555"/>
<circle cx="67.60" cy="307.45" r="1.25" fill="#555"/>
<circle cx="103.30" cy="305.38" r="1.25" fill="#555"/>
<circle cx="139.10" cy="310.04" r="1.25" fill="#555"/>
<circle cx="210.70" cy="297.97" r="1.25" fill="#555"/>
<polyline points="38.70,306.59 67.60,310.04 103.30,305.30 139.10,301.42 210.70,309.61" fill="none" stroke="#9a9a9a" stroke-width="0.55" stroke-linejoin="miter"/>
<circle cx="38.70" cy="306.59" r="1.25" fill="#555"/>
<circle cx="67.60" cy="310.04" r="1.25" fill="#555"/>
<circle cx="103.30" cy="305.30" r="1.25" fill="#555"/>
<circle cx="139.10" cy="301.42" r="1.25" fill="#555"/>
<circle cx="210.70" cy="309.61" r="1.25" fill="#555"/>
<polyline points="38.70,307.88 67.60,308.75 103.30,303.57 139.10,308.31 210.70,309.00" fill="none" stroke="#9a9a9a" stroke-width="0.55" stroke-linejoin="miter"/>
<circle cx="38.70" cy="307.88" r="1.25" fill="#555"/>
<circle cx="67.60" cy="308.75" r="1.25" fill="#555"/>
<circle cx="103.30" cy="303.57" r="1.25" fill="#555"/>
<circle cx="139.10" cy="308.31" r="1.25" fill="#555"/>
<circle cx="210.70" cy="309.00" r="1.25" fill="#555"/>
<polyline points="38.70,304.44 67.60,305.73 103.30,300.56 139.10,309.61 210.70,310.04" fill="none" stroke="#9a9a9a" stroke-width="0.55" stroke-linejoin="miter"/>
<circle cx="38.70" cy="304.44" r="1.25" fill="#555"/>
<circle cx="67.60" cy="305.73" r="1.25" fill="#555"/>
<circle cx="103.30" cy="300.56" r="1.25" fill="#555"/>
<circle cx="139.10" cy="309.61" r="1.25" fill="#555"/>
<circle cx="210.70" cy="310.04" r="1.25" fill="#555"/>
<polyline points="38.70,308.75 67.60,310.21 103.30,307.02 139.10,305.73 210.70,300.12" fill="none" stroke="#9a9a9a" stroke-width="0.55" stroke-linejoin="miter"/>
<circle cx="38.70" cy="308.75" r="1.25" fill="#555"/>
<circle cx="67.60" cy="310.21" r="1.25" fill="#555"/>
<circle cx="103.30" cy="307.02" r="1.25" fill="#555"/>
<circle cx="139.10" cy="305.73" r="1.25" fill="#555"/>
<circle cx="210.70" cy="300.12" r="1.25" fill="#555"/>
<polyline points="38.70,306.07 67.60,307.37 103.30,293.40 139.10,301.59 210.70,299.44" fill="none" stroke="#111" stroke-width="2.0" stroke-linejoin="miter"/>
<line x1="31.50" y1="224.20" x2="31.50" y2="311.65" stroke="#1e1e1e" stroke-width="1.5"/>
<line x1="30.75" y1="310.90" x2="216.90" y2="310.90" stroke="#1e1e1e" stroke-width="1.5"/>
<line x1="34.50" y1="310.90" x2="214.50" y2="310.90" stroke="#9a9a9a" stroke-width="1.5"/>
<line x1="28.50" y1="310.90" x2="31.50" y2="310.90" stroke="#1e1e1e" stroke-width="0.9"/>
<text font-size="8.3" text-anchor="end" fill="#222" stroke="#222" stroke-width="0.22" transform="translate(28.00 313.80) scale(1.0 1.1)">0</text>
<line x1="28.50" y1="293.66" x2="31.50" y2="293.66" stroke="#1e1e1e" stroke-width="0.9"/>
<text font-size="8.3" text-anchor="end" fill="#222" stroke="#222" stroke-width="0.22" transform="translate(28.00 296.56) scale(1.0 1.1)">20</text>
<line x1="28.50" y1="276.42" x2="31.50" y2="276.42" stroke="#1e1e1e" stroke-width="0.9"/>
<text font-size="8.3" text-anchor="end" fill="#222" stroke="#222" stroke-width="0.22" transform="translate(28.00 279.32) scale(1.0 1.1)">40</text>
<line x1="28.50" y1="259.18" x2="31.50" y2="259.18" stroke="#1e1e1e" stroke-width="0.9"/>
<text font-size="8.3" text-anchor="end" fill="#222" stroke="#222" stroke-width="0.22" transform="translate(28.00 262.08) scale(1.0 1.1)">60</text>
<line x1="28.50" y1="241.94" x2="31.50" y2="241.94" stroke="#1e1e1e" stroke-width="0.9"/>
<text font-size="8.3" text-anchor="end" fill="#222" stroke="#222" stroke-width="0.22" transform="translate(28.00 244.84) scale(1.0 1.1)">80</text>
<line x1="28.50" y1="224.70" x2="31.50" y2="224.70" stroke="#1e1e1e" stroke-width="0.9"/>
<text font-size="8.3" text-anchor="end" fill="#222" stroke="#222" stroke-width="0.22" transform="translate(28.00 227.60) scale(1.0 1.1)">100</text>
<line x1="38.70" y1="310.90" x2="38.70" y2="313.90" stroke="#1e1e1e" stroke-width="0.9"/>
<line x1="67.60" y1="310.90" x2="67.60" y2="313.90" stroke="#1e1e1e" stroke-width="0.9"/>
<line x1="103.30" y1="310.90" x2="103.30" y2="313.90" stroke="#1e1e1e" stroke-width="0.9"/>
<line x1="139.10" y1="310.90" x2="139.10" y2="313.90" stroke="#1e1e1e" stroke-width="0.9"/>
<line x1="210.70" y1="310.90" x2="210.70" y2="313.90" stroke="#1e1e1e" stroke-width="0.9"/>
<line x1="174.90" y1="310.90" x2="174.90" y2="313.90" stroke="#1e1e1e" stroke-width="0.9"/>
<text font-size="8.5" text-anchor="middle" fill="#222" stroke="#222" stroke-width="0.22" transform="translate(103.30 321.80) scale(1.0 1.1)">5</text>
<text font-size="8.5" text-anchor="middle" fill="#222" stroke="#222" stroke-width="0.22" transform="translate(139.10 321.80) scale(1.0 1.1)">10</text>
<text font-size="8.5" text-anchor="middle" fill="#222" stroke="#222" stroke-width="0.22" transform="translate(174.90 321.80) scale(1.0 1.1)">15</text>
<text font-size="8.5" text-anchor="middle" fill="#222" stroke="#222" stroke-width="0.22" transform="translate(210.70 321.80) scale(1.0 1.1)">20</text>
<text font-size="8.0" text-anchor="end" fill="#222" stroke="#222" stroke-width="0.22" transform="translate(42.30 318.50) rotate(-45) scale(1.0 1.1)">pre-AB</text>
<text font-size="8.0" text-anchor="end" fill="#222" stroke="#222" stroke-width="0.22" transform="translate(71.20 318.50) rotate(-45) scale(1.0 1.1)">post-AB</text>
<text font-size="8.6" text-anchor="middle" fill="#222" stroke="#222" stroke-width="0.22" transform="translate(132.10 333.20) scale(1.0 1.1)">Time (days post-AIEC gavage)</text>
<text font-size="8.45" text-anchor="middle" fill="#222" stroke="#222" stroke-width="0.22" transform="translate(12.30 267.30) rotate(-90) scale(1.0 1.1)">Lipocalin-2/NGAL ng/g feces</text>
<text font-size="8.4" text-anchor="middle" font-weight="bold" fill="#222" stroke="#222" stroke-width="0.22" transform="translate(125.20 213.90) scale(1.0 1.1)">Ctrl</text>
<polyline points="270.80,305.98 300.00,309.11 337.00,276.71 374.00,293.76 446.90,293.76" fill="none" stroke="#7ea7d4" stroke-width="0.6" stroke-linejoin="miter"/>
<circle cx="270.80" cy="305.98" r="1.25" fill="#4f86c6"/>
<circle cx="300.00" cy="309.11" r="1.25" fill="#4f86c6"/>
<circle cx="337.00" cy="276.71" r="1.25" fill="#4f86c6"/>
<circle cx="374.00" cy="293.76" r="1.25" fill="#4f86c6"/>
<circle cx="446.90" cy="293.76" r="1.25" fill="#4f86c6"/>
<polyline points="270.80,298.93 300.00,298.93 337.00,301.07 374.00,295.36 446.90,293.04" fill="none" stroke="#7ea7d4" stroke-width="0.6" stroke-linejoin="miter"/>
<circle cx="270.80" cy="298.93" r="1.25" fill="#4f86c6"/>
<circle cx="300.00" cy="298.93" r="1.25" fill="#4f86c6"/>
<circle cx="337.00" cy="301.07" r="1.25" fill="#4f86c6"/>
<circle cx="374.00" cy="295.36" r="1.25" fill="#4f86c6"/>
<circle cx="446.90" cy="293.04" r="1.25" fill="#4f86c6"/>
<polyline points="270.80,300.81 300.00,303.04 337.00,302.95 374.00,299.47 446.90,297.59" fill="none" stroke="#7ea7d4" stroke-width="0.6" stroke-linejoin="miter"/>
<circle cx="270.80" cy="300.81" r="1.25" fill="#4f86c6"/>
<circle cx="300.00" cy="303.04" r="1.25" fill="#4f86c6"/>
<circle cx="337.00" cy="302.95" r="1.25" fill="#4f86c6"/>
<circle cx="374.00" cy="299.47" r="1.25" fill="#4f86c6"/>
<circle cx="446.90" cy="297.59" r="1.25" fill="#4f86c6"/>
<polyline points="270.80,303.75 300.00,306.61 337.00,305.81 374.00,300.63 446.90,298.49" fill="none" stroke="#7ea7d4" stroke-width="0.6" stroke-linejoin="miter"/>
<circle cx="270.80" cy="303.75" r="1.25" fill="#4f86c6"/>
<circle cx="300.00" cy="306.61" r="1.25" fill="#4f86c6"/>
<circle cx="337.00" cy="305.81" r="1.25" fill="#4f86c6"/>
<circle cx="374.00" cy="300.63" r="1.25" fill="#4f86c6"/>
<circle cx="446.90" cy="298.49" r="1.25" fill="#4f86c6"/>
<polyline points="270.80,305.81 300.00,309.11 337.00,308.30 374.00,305.18 446.90,303.93" fill="none" stroke="#7ea7d4" stroke-width="0.6" stroke-linejoin="miter"/>
<circle cx="270.80" cy="305.81" r="1.25" fill="#4f86c6"/>
<circle cx="300.00" cy="309.11" r="1.25" fill="#4f86c6"/>
<circle cx="337.00" cy="308.30" r="1.25" fill="#4f86c6"/>
<circle cx="374.00" cy="305.18" r="1.25" fill="#4f86c6"/>
<circle cx="446.90" cy="303.93" r="1.25" fill="#4f86c6"/>
<polyline points="270.80,306.61 300.00,306.61 337.00,303.75 374.00,310.00 446.90,305.81" fill="none" stroke="#7ea7d4" stroke-width="0.6" stroke-linejoin="miter"/>
<circle cx="270.80" cy="306.61" r="1.25" fill="#4f86c6"/>
<circle cx="300.00" cy="306.61" r="1.25" fill="#4f86c6"/>
<circle cx="337.00" cy="303.75" r="1.25" fill="#4f86c6"/>
<circle cx="374.00" cy="310.00" r="1.25" fill="#4f86c6"/>
<circle cx="446.90" cy="305.81" r="1.25" fill="#4f86c6"/>
<polyline points="270.80,308.93 300.00,309.11 337.00,301.25 374.00,305.18 446.90,307.68" fill="none" stroke="#7ea7d4" stroke-width="0.6" stroke-linejoin="miter"/>
<circle cx="270.80" cy="308.93" r="1.25" fill="#4f86c6"/>
<circle cx="300.00" cy="309.11" r="1.25" fill="#4f86c6"/>
<circle cx="337.00" cy="301.25" r="1.25" fill="#4f86c6"/>
<circle cx="374.00" cy="305.18" r="1.25" fill="#4f86c6"/>
<circle cx="446.90" cy="307.68" r="1.25" fill="#4f86c6"/>
<polyline points="270.80,305.09 300.00,307.77 337.00,306.43 374.00,299.74 446.90,304.64" fill="none" stroke="#7ea7d4" stroke-width="0.6" stroke-linejoin="miter"/>
<circle cx="270.80" cy="305.09" r="1.25" fill="#4f86c6"/>
<circle cx="300.00" cy="307.77" r="1.25" fill="#4f86c6"/>
<circle cx="337.00" cy="306.43" r="1.25" fill="#4f86c6"/>
<circle cx="374.00" cy="299.74" r="1.25" fill="#4f86c6"/>
<circle cx="446.90" cy="304.64" r="1.25" fill="#4f86c6"/>
<polyline points="270.80,307.77 300.00,309.55 337.00,304.64 374.00,308.21 446.90,306.43" fill="none" stroke="#7ea7d4" stroke-width="0.6" stroke-linejoin="miter"/>
<circle cx="270.80" cy="307.77" r="1.25" fill="#4f86c6"/>
<circle cx="300.00" cy="309.55" r="1.25" fill="#4f86c6"/>
<circle cx="337.00" cy="304.64" r="1.25" fill="#4f86c6"/>
<circle cx="374.00" cy="308.21" r="1.25" fill="#4f86c6"/>
<circle cx="446.90" cy="306.43" r="1.25" fill="#4f86c6"/>
<polyline points="270.80,305.81 300.00,306.61 337.00,302.86 374.00,300.81 446.90,304.29" fill="none" stroke="#4f88a6" stroke-width="2.0" stroke-linejoin="miter"/>
<line x1="263.00" y1="219.90" x2="263.00" y2="310.75" stroke="#1e1e1e" stroke-width="1.5"/>
<line x1="262.25" y1="310.00" x2="454.10" y2="310.00" stroke="#1e1e1e" stroke-width="1.5"/>
<line x1="260.00" y1="310.00" x2="263.00" y2="310.00" stroke="#1e1e1e" stroke-width="0.9"/>
<text font-size="8.3" text-anchor="end" fill="#222" stroke="#222" stroke-width="0.22" transform="translate(259.50 312.90) scale(1.0 1.1)">0</text>
<line x1="260.00" y1="292.15" x2="263.00" y2="292.15" stroke="#1e1e1e" stroke-width="0.9"/>
<text font-size="8.3" text-anchor="end" fill="#222" stroke="#222" stroke-width="0.22" transform="translate(259.50 295.05) scale(1.0 1.1)">20</text>
<line x1="260.00" y1="274.30" x2="263.00" y2="274.30" stroke="#1e1e1e" stroke-width="0.9"/>
<text font-size="8.3" text-anchor="end" fill="#222" stroke="#222" stroke-width="0.22" transform="translate(259.50 277.20) scale(1.0 1.1)">40</text>
<line x1="260.00" y1="256.45" x2="263.00" y2="256.45" stroke="#1e1e1e" stroke-width="0.9"/>
<text font-size="8.3" text-anchor="end" fill="#222" stroke="#222" stroke-width="0.22" transform="translate(259.50 259.35) scale(1.0 1.1)">60</text>
<line x1="260.00" y1="238.60" x2="263.00" y2="238.60" stroke="#1e1e1e" stroke-width="0.9"/>
<text font-size="8.3" text-anchor="end" fill="#222" stroke="#222" stroke-width="0.22" transform="translate(259.50 241.50) scale(1.0 1.1)">80</text>
<line x1="260.00" y1="220.75" x2="263.00" y2="220.75" stroke="#1e1e1e" stroke-width="0.9"/>
<text font-size="8.3" text-anchor="end" fill="#222" stroke="#222" stroke-width="0.22" transform="translate(259.50 223.65) scale(1.0 1.1)">100</text>
<line x1="270.80" y1="310.00" x2="270.80" y2="313.00" stroke="#1e1e1e" stroke-width="0.9"/>
<line x1="300.00" y1="310.00" x2="300.00" y2="313.00" stroke="#1e1e1e" stroke-width="0.9"/>
<line x1="337.00" y1="310.00" x2="337.00" y2="313.00" stroke="#1e1e1e" stroke-width="0.9"/>
<line x1="374.00" y1="310.00" x2="374.00" y2="313.00" stroke="#1e1e1e" stroke-width="0.9"/>
<line x1="446.90" y1="310.00" x2="446.90" y2="313.00" stroke="#1e1e1e" stroke-width="0.9"/>
<line x1="410.45" y1="310.00" x2="410.45" y2="313.00" stroke="#1e1e1e" stroke-width="0.9"/>
<text font-size="8.5" text-anchor="middle" fill="#222" stroke="#222" stroke-width="0.22" transform="translate(337.00 320.90) scale(1.0 1.1)">5</text>
<text font-size="8.5" text-anchor="middle" fill="#222" stroke="#222" stroke-width="0.22" transform="translate(374.00 320.90) scale(1.0 1.1)">10</text>
<text font-size="8.5" text-anchor="middle" fill="#222" stroke="#222" stroke-width="0.22" transform="translate(410.45 320.90) scale(1.0 1.1)">15</text>
<text font-size="8.5" text-anchor="middle" fill="#222" stroke="#222" stroke-width="0.22" transform="translate(446.90 320.90) scale(1.0 1.1)">20</text>
<text font-size="8.0" text-anchor="end" fill="#222" stroke="#222" stroke-width="0.22" transform="translate(274.40 317.60) rotate(-45) scale(1.0 1.1)">pre-AB</text>
<text font-size="8.0" text-anchor="end" fill="#222" stroke="#222" stroke-width="0.22" transform="translate(303.60 317.60) rotate(-45) scale(1.0 1.1)">post-AB</text>
<text font-size="8.6" text-anchor="middle" fill="#222" stroke="#222" stroke-width="0.22" transform="translate(365.20 332.30) scale(1.0 1.1)">Time (days post-AIEC gavage)</text>
<text font-size="8.45" text-anchor="middle" fill="#222" stroke="#222" stroke-width="0.22" transform="translate(243.60 266.20) rotate(-90) scale(1.0 1.1)">Lipocalin-2/NGAL ng/g feces</text>
<text font-size="8.4" text-anchor="middle" font-weight="bold" fill="#222" stroke="#222" stroke-width="0.22" transform="translate(359.50 210.70) scale(1.0 1.1)">+ARO112</text>
<polyline points="499.70,274.60 499.70,221.50 621.70,221.50 621.70,226.50" fill="none" stroke="#1e1e1e" stroke-width="1.1" stroke-linejoin="miter"/>
<polyline points="528.80,255.00 528.80,229.80 621.70,229.80 621.70,233.50" fill="none" stroke="#1e1e1e" stroke-width="1.1" stroke-linejoin="miter"/>
<polyline points="565.50,234.40 677.60,234.40" fill="none" stroke="#1e1e1e" stroke-width="1.1" stroke-linejoin="miter"/>
<text font-size="8.5" text-anchor="middle" fill="#222" stroke="#222" stroke-width="0.45" transform="translate(548.60 222.40) scale(1.0 1.1)">***</text>
<text font-size="8.5" text-anchor="middle" fill="#222" stroke="#222" stroke-width="0.45" transform="translate(576.10 231.30) scale(1.0 1.1)">**</text>
<polyline points="499.20,304.42 528.60,290.88 565.40,243.54 602.90,260.44 676.10,260.00" fill="none" stroke="#d6b073" stroke-width="0.55" stroke-linejoin="miter"/>
<circle cx="499.20" cy="304.42" r="1.25" fill="#c49350"/>
<circle cx="528.60" cy="290.88" r="1.25" fill="#c49350"/>
<circle cx="565.40" cy="243.54" r="1.25" fill="#c49350"/>
<circle cx="602.90" cy="260.44" r="1.25" fill="#c49350"/>
<circle cx="676.10" cy="260.00" r="1.25" fill="#c49350"/>
<polyline points="499.20,301.15 528.60,292.83 565.40,245.22 602.90,253.36 676.10,269.91" fill="none" stroke="#d6b073" stroke-width="0.55" stroke-linejoin="miter"/>
<circle cx="499.20" cy="301.15" r="1.25" fill="#c49350"/>
<circle cx="528.60" cy="292.83" r="1.25" fill="#c49350"/>
<circle cx="565.40" cy="245.22" r="1.25" fill="#c49350"/>
<circle cx="602.90" cy="253.36" r="1.25" fill="#c49350"/>
<circle cx="676.10" cy="269.91" r="1.25" fill="#c49350"/>
<polyline points="499.20,307.79 528.60,294.87 565.40,257.17 602.90,285.93 676.10,260.00" fill="none" stroke="#d6b073" stroke-width="0.55" stroke-linejoin="miter"/>
<circle cx="499.20" cy="307.79" r="1.25" fill="#c49350"/>
<circle cx="528.60" cy="294.87" r="1.25" fill="#c49350"/>
<circle cx="565.40" cy="257.17" r="1.25" fill="#c49350"/>
<circle cx="602.90" cy="285.93" r="1.25" fill="#c49350"/>
<circle cx="676.10" cy="260.00" r="1.25" fill="#c49350"/>
<polyline points="499.20,305.57 528.60,297.79 565.40,276.99 602.90,238.14 676.10,257.70" fill="none" stroke="#d6b073" stroke-width="0.55" stroke-linejoin="miter"/>
<circle cx="499.20" cy="305.57" r="1.25" fill="#c49350"/>
<circle cx="528.60" cy="297.79" r="1.25" fill="#c49350"/>
<circle cx="565.40" cy="276.99" r="1.25" fill="#c49350"/>
<circle cx="602.90" cy="238.14" r="1.25" fill="#c49350"/>
<circle cx="676.10" cy="257.70" r="1.25" fill="#c49350"/>
<polyline points="499.20,306.46 528.60,300.26 565.40,279.29 602.90,249.91 676.10,260.00" fill="none" stroke="#d6b073" stroke-width="0.55" stroke-linejoin="miter"/>
<circle cx="499.20" cy="306.46" r="1.25" fill="#c49350"/>
<circle cx="528.60" cy="300.26" r="1.25" fill="#c49350"/>
<circle cx="565.40" cy="279.29" r="1.25" fill="#c49350"/>
<circle cx="602.90" cy="249.91" r="1.25" fill="#c49350"/>
<circle cx="676.10" cy="260.00" r="1.25" fill="#c49350"/>
<polyline points="499.20,305.57 528.60,302.92 565.40,283.98 602.90,251.94 676.10,287.52" fill="none" stroke="#d6b073" stroke-width="0.55" stroke-linejoin="miter"/>
<circle cx="499.20" cy="305.57" r="1.25" fill="#c49350"/>
<circle cx="528.60" cy="302.92" r="1.25" fill="#c49350"/>
<circle cx="565.40" cy="283.98" r="1.25" fill="#c49350"/>
<circle cx="602.90" cy="251.94" r="1.25" fill="#c49350"/>
<circle cx="676.10" cy="287.52" r="1.25" fill="#c49350"/>
<polyline points="499.20,307.35 528.60,301.15 565.40,287.52 602.90,268.67 676.10,277.70" fill="none" stroke="#d6b073" stroke-width="0.55" stroke-linejoin="miter"/>
<circle cx="499.20" cy="307.35" r="1.25" fill="#c49350"/>
<circle cx="528.60" cy="301.15" r="1.25" fill="#c49350"/>
<circle cx="565.40" cy="287.52" r="1.25" fill="#c49350"/>
<circle cx="602.90" cy="268.67" r="1.25" fill="#c49350"/>
<circle cx="676.10" cy="277.70" r="1.25" fill="#c49350"/>
<polyline points="499.20,306.02 528.60,305.49 565.40,300.00 602.90,271.06 676.10,289.64" fill="none" stroke="#d6b073" stroke-width="0.55" stroke-linejoin="miter"/>
<circle cx="499.20" cy="306.02" r="1.25" fill="#c49350"/>
<circle cx="528.60" cy="305.49" r="1.25" fill="#c49350"/>
<circle cx="565.40" cy="300.00" r="1.25" fill="#c49350"/>
<circle cx="602.90" cy="271.06" r="1.25" fill="#c49350"/>
<circle cx="676.10" cy="289.64" r="1.25" fill="#c49350"/>
<polyline points="499.20,308.58 528.60,306.37 565.40,306.37 602.90,308.67 676.10,302.83" fill="none" stroke="#d6b073" stroke-width="0.55" stroke-linejoin="miter"/>
<circle cx="499.20" cy="308.58" r="1.25" fill="#c49350"/>
<circle cx="528.60" cy="306.37" r="1.25" fill="#c49350"/>
<circle cx="565.40" cy="306.37" r="1.25" fill="#c49350"/>
<circle cx="602.90" cy="308.67" r="1.25" fill="#c49350"/>
<circle cx="676.10" cy="302.83" r="1.25" fill="#c49350"/>
<polyline points="499.20,304.69 528.60,299.38 565.40,286.11 602.90,285.93 676.10,290.62" fill="none" stroke="#d6b073" stroke-width="0.55" stroke-linejoin="miter"/>
<circle cx="499.20" cy="304.69" r="1.25" fill="#c49350"/>
<circle cx="528.60" cy="299.38" r="1.25" fill="#c49350"/>
<circle cx="565.40" cy="286.11" r="1.25" fill="#c49350"/>
<circle cx="602.90" cy="285.93" r="1.25" fill="#c49350"/>
<circle cx="676.10" cy="290.62" r="1.25" fill="#c49350"/>
<polyline points="499.20,305.84 528.60,300.26 565.40,281.68 602.90,264.69 676.10,265.22" fill="none" stroke="#a97a22" stroke-width="2.2" stroke-linejoin="miter"/>
<line x1="491.50" y1="221.00" x2="491.50" y2="310.75" stroke="#1e1e1e" stroke-width="1.5"/>
<line x1="490.75" y1="310.00" x2="684.00" y2="310.00" stroke="#1e1e1e" stroke-width="1.5"/>
<line x1="488.50" y1="310.00" x2="491.50" y2="310.00" stroke="#1e1e1e" stroke-width="0.9"/>
<text font-size="8.3" text-anchor="end" fill="#222" stroke="#222" stroke-width="0.22" transform="translate(488.00 312.90) scale(1.0 1.1)">0</text>
<line x1="488.50" y1="292.30" x2="491.50" y2="292.30" stroke="#1e1e1e" stroke-width="0.9"/>
<text font-size="8.3" text-anchor="end" fill="#222" stroke="#222" stroke-width="0.22" transform="translate(488.00 295.20) scale(1.0 1.1)">20</text>
<line x1="488.50" y1="274.60" x2="491.50" y2="274.60" stroke="#1e1e1e" stroke-width="0.9"/>
<text font-size="8.3" text-anchor="end" fill="#222" stroke="#222" stroke-width="0.22" transform="translate(488.00 277.50) scale(1.0 1.1)">40</text>
<line x1="488.50" y1="256.90" x2="491.50" y2="256.90" stroke="#1e1e1e" stroke-width="0.9"/>
<text font-size="8.3" text-anchor="end" fill="#222" stroke="#222" stroke-width="0.22" transform="translate(488.00 259.80) scale(1.0 1.1)">60</text>
<line x1="488.50" y1="239.20" x2="491.50" y2="239.20" stroke="#1e1e1e" stroke-width="0.9"/>
<text font-size="8.3" text-anchor="end" fill="#222" stroke="#222" stroke-width="0.22" transform="translate(488.00 242.10) scale(1.0 1.1)">80</text>
<line x1="488.50" y1="221.50" x2="491.50" y2="221.50" stroke="#1e1e1e" stroke-width="0.9"/>
<text font-size="8.3" text-anchor="end" fill="#222" stroke="#222" stroke-width="0.22" transform="translate(488.00 224.40) scale(1.0 1.1)">100</text>
<line x1="499.20" y1="310.00" x2="499.20" y2="313.00" stroke="#1e1e1e" stroke-width="0.9"/>
<line x1="528.60" y1="310.00" x2="528.60" y2="313.00" stroke="#1e1e1e" stroke-width="0.9"/>
<line x1="565.40" y1="310.00" x2="565.40" y2="313.00" stroke="#1e1e1e" stroke-width="0.9"/>
<line x1="602.90" y1="310.00" x2="602.90" y2="313.00" stroke="#1e1e1e" stroke-width="0.9"/>
<line x1="676.10" y1="310.00" x2="676.10" y2="313.00" stroke="#1e1e1e" stroke-width="0.9"/>
<line x1="639.50" y1="310.00" x2="639.50" y2="313.00" stroke="#1e1e1e" stroke-width="0.9"/>
<text font-size="8.5" text-anchor="middle" fill="#222" stroke="#222" stroke-width="0.22" transform="translate(565.40 320.90) scale(1.0 1.1)">5</text>
<text font-size="8.5" text-anchor="middle" fill="#222" stroke="#222" stroke-width="0.22" transform="translate(602.90 320.90) scale(1.0 1.1)">10</text>
<text font-size="8.5" text-anchor="middle" fill="#222" stroke="#222" stroke-width="0.22" transform="translate(639.50 320.90) scale(1.0 1.1)">15</text>
<text font-size="8.5" text-anchor="middle" fill="#222" stroke="#222" stroke-width="0.22" transform="translate(676.10 320.90) scale(1.0 1.1)">20</text>
<text font-size="8.0" text-anchor="end" fill="#222" stroke="#222" stroke-width="0.22" transform="translate(502.80 317.60) rotate(-45) scale(1.0 1.1)">pre-AB</text>
<text font-size="8.0" text-anchor="end" fill="#222" stroke="#222" stroke-width="0.22" transform="translate(532.20 317.60) rotate(-45) scale(1.0 1.1)">post-AB</text>
<text font-size="8.6" text-anchor="middle" fill="#222" stroke="#222" stroke-width="0.22" transform="translate(593.70 332.30) scale(1.0 1.1)">Time (days post-AIEC gavage)</text>
<text font-size="8.45" text-anchor="middle" fill="#222" stroke="#222" stroke-width="0.22" transform="translate(472.80 266.25) rotate(-90) scale(1.0 1.1)">Lipocalin-2/NGAL ng/g feces</text>
<text font-size="8.4" text-anchor="middle" font-weight="bold" fill="#222" stroke="#222" stroke-width="0.22" transform="translate(588.00 210.60) scale(1.0 1.1)">+EcN</text>
</svg>
</body></html>
